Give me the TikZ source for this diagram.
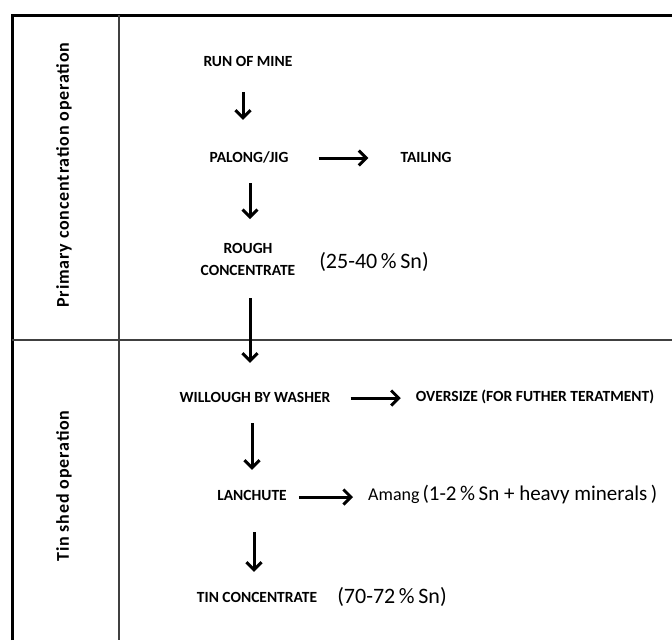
\documentclass[tikz,border=0pt]{standalone}
\usepackage{fontspec}
\setmainfont{Carlito}
\usetikzlibrary{arrows.meta}
\begin{document}
\begin{tikzpicture}[x=1pt,y=-1pt,
  frame/.style={line width=3pt,black},
  grid/.style={line width=1.2pt,black!75},
  lane/.style={font=\fontsize{18}{18}\selectfont\bfseries\addfontfeature{LetterSpace=4.5},rotate=90,inner sep=0pt},
  label/.style={font=\fontsize{15.5}{22}\selectfont\bfseries,inner sep=0pt,align=center},
  stage/.style={label,text height=10pt,text depth=0pt},
  note/.style={font=\fontsize{22}{22}\selectfont,inner sep=0pt},
  flow/.style={line width=3pt,-{Straight Barb[length=7.5pt,width=15pt,line width=3pt]}}]
\useasboundingbox (0,0) rectangle (672,640);
% table frame
\draw[frame] (12,640) -- (12,15) -- (672,15);
\draw[grid] (119,15) -- (119,640);
\draw[grid] (12,340) -- (672,340);
% lane titles
\node[lane] (primary) at (64,175) {Primary concentration operation};
\node[lane] (tinshed) at (64,486) {Tin shed operation};
% process stages
\node[stage] (rom) at (248,61) {RUN OF MINE};
\node[stage] (palong) at (249,157) {PALONG/JIG};
\node[stage] (tailing) at (426,157) {TAILING};
\node[label] (rough) at (248,259) {ROUGH\\CONCENTRATE};
\node[note] (roughpct) at (374,262) {(25-40\,\%\,Sn)};
\node[stage] (washer) at (255,397) {WILLOUGH BY WASHER};
\node[stage] (oversize) at (535,396) {OVERSIZE (FOR FUTHER TERATMENT)};
\node[stage] (lanchute) at (252,495) {LANCHUTE};
\node[stage,anchor=west,font=\fontsize{18}{18}\selectfont] (amang) at (368,495) {Amang\,{\fontsize{21}{21}\selectfont(1-2\,\%\,Sn + heavy minerals\,)}};
\node[stage] (tin) at (257,597) {TIN CONCENTRATE};
\node[note] (tinpct) at (392,597) {(70-72\,\%\,Sn)};
% connectors
\draw[flow,shorten <=26pt,shorten >=32pt] (rom.south -| 243,0) -- (palong.north -| 243,0);
\draw[flow,shorten <=21pt,shorten >=23.5pt] (palong.south -| 250,0) -- (rough.north -| 250,0);
\draw[flow,shorten <=23pt,shorten >=29pt] (rough.south -| 250,0) -- (washer.north -| 250,0);
\draw[flow,shorten <=21pt,shorten >=20pt] (washer.south -| 252,0) -- (lanchute.north -| 252,0);
\draw[flow,shorten <=32pt,shorten >=20pt] (lanchute.south -| 254,0) -- (tin.north -| 254,0);
\draw[flow,shorten <=30pt,shorten >=32pt] (palong.east |- 0,158) -- (tailing.west |- 0,158);
\draw[flow,shorten <=20pt,shorten >=15pt] (washer.east |- 0,398) -- (oversize.west |- 0,398);
\draw[flow,shorten <=12pt,shorten >=15pt] (lanchute.east |- 0,497) -- (amang.west |- 0,497);
\end{tikzpicture}
\end{document}
